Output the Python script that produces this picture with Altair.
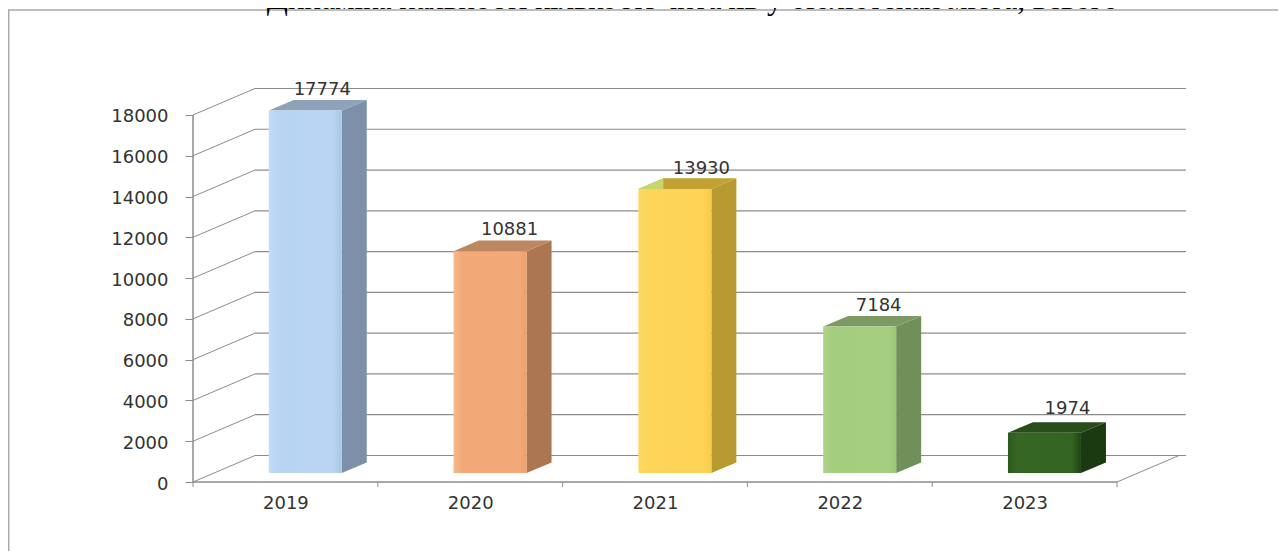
import altair as alt
import pandas as pd

TITLE = "Динаміка наявності кількості  читачів у бібліотеках міста, всього"
years = ["2019", "2020", "2021", "2022", "2023"]
values = [17774, 10881, 13930, 7184, 1974]
y_ticks = list(range(0, 18001, 2000))

front = [
    ["#c4dcf5", "#b7d4f2", "#b9d5f2", "#a9c6e4"],
    ["#f7b88c", "#f3a877", "#f4aa78", "#eea06c"],
    ["#fcd866", "#fdd55a", "#fdd456", "#f6cc4e"],
    ["#aed388", "#a5cd7e", "#a6cf7f", "#9cc577"],
    ["#2c5a1c", "#356623", "#346422", "#1f4412"],
]
side = ["#7c90aa", "#ab7650", "#b89932", "#6f9058", "#1c3a11"]
top = ["#8ea2ba", "#bd8760", "#c2a032", "#7d9a63", "#264d1a"]

LINE = "#8c8c8c"
PX_U = 184.8          # pixels per category
PX_V = 0.02039        # pixels per value unit
W, H = 1270, 543
X0, Y0 = 193 - 8, 482 - 8
DOM_X = [-X0 / PX_U, (W - X0) / PX_U]
DOM_Y = [(Y0 - H) / PX_V, Y0 / PX_V]
WALL_U, WALL_V = 62 / PX_U, 26.5 / PX_V
BAR_L, BAR_W = 0.41, 0.395
BAR_BASE = 9 / PX_V
BAR_DU, BAR_DV = 25 / PX_U, 10.6 / PX_V

xs = alt.Scale(domain=DOM_X, nice=False, zero=False)
ys = alt.Scale(domain=DOM_Y, nice=False, zero=False)
X = lambda f="x", **k: alt.X(f"{f}:Q", scale=xs, axis=None, **k)
Y = lambda f="y", **k: alt.Y(f"{f}:Q", scale=ys, axis=None, **k)

layers = []

# real axes
axis_font = dict(labelFont="DejaVu Sans", labelFontSize=18, labelColor="#333333")
axes_df = pd.DataFrame({"x": [0.5], "y": [0]})
layers.append(alt.Chart(axes_df).mark_point(opacity=0).encode(
    x=alt.X("x:Q", scale=xs, axis=alt.Axis(
        values=[0.5, 1.5, 2.5, 3.5, 4.5], title=None, grid=False, domain=False, ticks=False,
        offset=-(H - Y0), labelPadding=12,
        labelExpr=f"{years[0]} + floor(datum.value)", **axis_font)),
    y=alt.Y("y:Q", scale=ys, axis=alt.Axis(
        values=y_ticks, title=None, grid=False, domain=False, tickSize=8, tickColor=LINE,
        offset=-X0, labelPadding=17, labelOffset=2, format="d", **axis_font)),
))

# frame
frame = pd.DataFrame({"k": [0]})
layers.append(alt.Chart(frame).mark_rule(color="#a8a8a8", strokeWidth=1.5).encode(
    x=alt.value(0.7), y=alt.value(2), y2=alt.value(H + 8)))
layers.append(alt.Chart(frame).mark_rule(color="#a8a8a8", strokeWidth=1.5).encode(
    x=alt.value(0), x2=alt.value(W + 8), y=alt.value(2)))

# back wall grid
grid = pd.DataFrame({"v": y_ticks})
grid["y"] = grid.v + WALL_V
grid["x"] = WALL_U
grid["x2"] = 5.373
layers.append(alt.Chart(grid).mark_rule(color=LINE, strokeWidth=1.2).encode(
    x=X(), x2="x2:Q", y=Y()))

# left wall diagonals and right floor edge
diag = pd.DataFrame(
    [{"g": v, "x": 0, "y": v} for v in y_ticks]
    + [{"g": v, "x": WALL_U, "y": v + WALL_V} for v in y_ticks]
    + [{"g": -1, "x": 5, "y": 0}, {"g": -1, "x": 5 + WALL_U, "y": WALL_V}]
)
layers.append(alt.Chart(diag).mark_line(color=LINE, strokeWidth=1).encode(
    x=X(), y=Y(), detail="g:N"))

# front floor edge, vertical axis line, category ticks
floor = pd.DataFrame({"x": [0], "x2": [5], "y": [0]})
layers.append(alt.Chart(floor).mark_rule(color=LINE, strokeWidth=1.5).encode(
    x=X(), x2="x2:Q", y=Y()))
vert = pd.DataFrame({"x": [0], "y": [0], "y2": [18000]})
layers.append(alt.Chart(vert).mark_rule(color=LINE, strokeWidth=1.5).encode(
    x=X(), y=Y(), y2="y2:Q"))
ticks = pd.DataFrame({"x": [0, 1, 2, 3, 4, 5], "y": [0] * 6, "y2": [-245] * 6})
layers.append(alt.Chart(ticks).mark_rule(color=LINE, strokeWidth=1).encode(
    x=X(), y=Y(), y2="y2:Q"))

# bars
for i, (yr, v) in enumerate(zip(years, values)):
    l, r = i + BAR_L, i + BAR_L + BAR_W
    base, t = BAR_BASE, BAR_BASE + v
    # side face
    s = pd.DataFrame({"x": [r, r + BAR_DU], "y": [base, base + BAR_DV], "y2": [t, t + BAR_DV]})
    layers.append(alt.Chart(s).mark_area(color=side[i]).encode(x=X(), y=Y(), y2="y2:Q"))
    # top face
    tp = pd.DataFrame({
        "x": [l, l + BAR_DU, r, r + BAR_DU],
        "y": [t, t, t, t + BAR_DV],
        "y2": [t, t + BAR_DV, t + BAR_DV, t + BAR_DV],
    })
    layers.append(alt.Chart(tp).mark_area(color=top[i]).encode(x=X(), y=Y(), y2="y2:Q"))
    # front face
    f = pd.DataFrame({"x": [l], "x2": [r], "y": [base], "y2": [t]})
    grad = alt.LinearGradient(
        gradient="linear", x1=0, x2=1, y1=0, y2=0,
        stops=[alt.GradientStop(color=c, offset=o)
               for c, o in zip(front[i], [0, 0.12, 0.88, 1])],
    )
    layers.append(alt.Chart(f).mark_rect(color=grad).encode(x=X(), x2="x2:Q", y=Y(), y2="y2:Q"))
    if yr == "2021":
        g = pd.DataFrame({"x": [l, l + BAR_DU], "y": [t, t], "y2": [t, t + BAR_DV]})
        layers.append(alt.Chart(g).mark_area(color="#c6d56c").encode(x=X(), y=Y(), y2="y2:Q"))

# value labels
label_dx = [17, 19.5, 26.5, 19, 23]
label_dy = [-21, -21, -20, -21, -24]
for i, v in enumerate(values):
    d = pd.DataFrame({"x": [i + BAR_L + BAR_W / 2], "y": [BAR_BASE + v], "t": [str(v)]})
    layers.append(alt.Chart(d).mark_text(
        font="DejaVu Sans", fontSize=18, color="#333333", align="center", baseline="middle",
        dx=label_dx[i], dy=label_dy[i],
    ).encode(x=X(), y=Y(), text="t:N"))

# title, cut by the top edge as in the reference
ttl = pd.DataFrame({"t": [TITLE]})
layers.append(alt.Chart(ttl).mark_text(
    font="Liberation Serif", fontSize=31, color="#000000", align="center", baseline="alphabetic",
).encode(x=alt.value(684.5), y=alt.value(1), text="t:N"))

chart = alt.layer(*layers).resolve_axis(x="independent", y="independent").properties(
    width=W, height=H, padding=0,
    autosize=alt.AutoSizeParams(type="none"),
    background="#ffffff",
).configure_view(stroke=None)

chart.save("out.html", embed_options={"renderer": "svg", "actions": False})
